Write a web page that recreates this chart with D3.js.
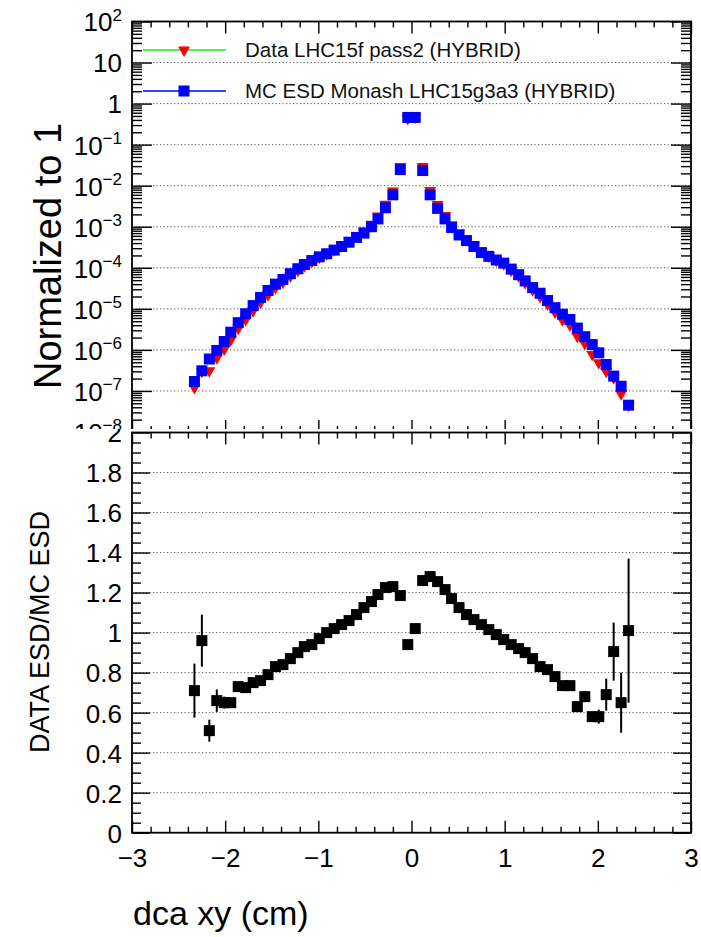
<!DOCTYPE html>
<html>
<head>
<meta charset="utf-8">
<script src="https://cdn.jsdelivr.net/npm/d3@7/dist/d3.min.js"></script>
<style>
  html, body { margin: 0; padding: 0; background: #fff; }
  svg { display: block; }
  text { font-family: "Liberation Sans", Arial, Helvetica, sans-serif; }
</style>
</head>
<body>
<div id="chart"></div>
<script>
// ---------------- DATA ----------------
const binCenters = [
  -2.33, -2.25, -2.17, -2.09, -2.01, -1.94, -1.86, -1.78, -1.70, -1.62,
  -1.54, -1.46, -1.38, -1.30, -1.22, -1.15, -1.07, -0.99, -0.91, -0.83,
  -0.75, -0.67, -0.59, -0.51, -0.43, -0.36, -0.28, -0.20, -0.12, -0.04,
   0.04,  0.12,  0.20,  0.28,  0.36,  0.43,  0.51,  0.59,  0.67,  0.75,
   0.83,  0.91,  0.99,  1.07,  1.15,  1.22,  1.30,  1.38,  1.46,  1.54,
   1.62,  1.70,  1.78,  1.86,  1.94,  2.01,  2.09,  2.17,  2.25,  2.33
];

// MC ESD Monash LHC15g3a3 (HYBRID), normalized to 1
const mcValues = [
  1.7e-7, 3.1e-7, 6.0e-7, 9.7e-7, 1.6e-6, 2.7e-6, 4.6e-6, 7.6e-6, 1.2e-5, 1.9e-5,
  2.8e-5, 4.0e-5, 5.2e-5, 7.2e-5, 9.5e-5, 1.2e-4, 1.5e-4, 1.85e-4, 2.2e-4, 2.7e-4,
  3.3e-4, 4.2e-4, 5.5e-4, 7.0e-4, 1.0e-3, 1.55e-3, 2.9e-3, 6.0e-3, 2.47e-2, 0.46,
  0.46, 2.34e-2, 6.0e-3, 2.8e-3, 1.55e-3, 9.6e-4, 6.3e-4, 4.6e-4, 3.3e-4, 2.35e-4,
  1.9e-4, 1.55e-4, 1.3e-4, 9.3e-5, 6.8e-5, 4.8e-5, 3.3e-5, 2.4e-5, 1.6e-5, 1.07e-5,
  7.4e-6, 5.5e-6, 3.4e-6, 2.1e-6, 1.35e-6, 8.5e-7, 4.4e-7, 2.3e-7, 1.3e-7, 4.5e-8
];

// Data LHC15f pass2 (HYBRID), normalized to 1
const dataValues = [
  1.2e-7, 3.0e-7, 3.1e-7, 6.4e-7, 1.04e-6, 1.75e-6, 3.36e-6, 5.5e-6, 9.0e-6, 1.44e-5,
  2.2e-5, 3.3e-5, 4.4e-5, 6.3e-5, 8.6e-5, 1.12e-4, 1.41e-4, 1.79e-4, 2.2e-4, 2.75e-4,
  3.43e-4, 4.45e-4, 6.0e-4, 7.9e-4, 1.155e-3, 1.84e-3, 3.55e-3, 7.4e-3, 2.93e-2, 0.432,
  0.469, 2.95e-2, 7.7e-3, 3.5e-3, 1.88e-3, 1.12e-3, 7.1e-4, 5.0e-4, 3.5e-4, 2.44e-4,
  1.93e-4, 1.53e-4, 1.25e-4, 8.7e-5, 6.3e-5, 4.3e-5, 2.9e-5, 2.0e-5, 1.3e-5, 8.3e-6,
  5.4e-6, 4.0e-6, 2.14e-6, 1.43e-6, 7.8e-7, 4.9e-7, 3.0e-7, 2.1e-7, 8.5e-8, 4.5e-8
];

// DATA ESD / MC ESD
const ratioValues = [
  0.71, 0.96, 0.51, 0.66, 0.65, 0.65, 0.73, 0.725, 0.75, 0.76,
  0.79, 0.83, 0.84, 0.87, 0.90, 0.93, 0.94, 0.97, 1.00, 1.02,
  1.04, 1.06, 1.09, 1.125, 1.155, 1.19, 1.225, 1.23, 1.185, 0.94,
  1.02, 1.26, 1.28, 1.255, 1.215, 1.17, 1.125, 1.09, 1.065, 1.04,
  1.015, 0.99, 0.965, 0.94, 0.92, 0.90, 0.87, 0.83, 0.815, 0.78,
  0.735, 0.735, 0.63, 0.68, 0.58, 0.58, 0.69, 0.905, 0.65, 1.01
];
const ratioErrors = [
  0.135, 0.13, 0.055, 0.056, 0.03, 0.02, 0.015, 0.012, 0.01, 0.01,
  0.008, 0.006, 0.006, 0.005, 0.005, 0.004, 0.004, 0.004, 0.004, 0.004,
  0.004, 0.004, 0.004, 0.003, 0.003, 0.003, 0.002, 0.002, 0.002, 0.001,
  0.001, 0.002, 0.002, 0.002, 0.003, 0.003, 0.003, 0.004, 0.004, 0.004,
  0.004, 0.004, 0.004, 0.005, 0.005, 0.006, 0.006, 0.008, 0.01, 0.01,
  0.015, 0.015, 0.02, 0.025, 0.025, 0.035, 0.08, 0.145, 0.15, 0.36
];

const xTickValues = [-3, -2, -1, 0, 1, 2, 3];
const topMajorTicks = [1e-8, 1e-7, 1e-6, 1e-5, 1e-4, 1e-3, 1e-2, 1e-1, 1, 10, 100];
const botMajorTicks = [0, 0.2, 0.4, 0.6, 0.8, 1, 1.2, 1.4, 1.6, 1.8, 2];
const legendLabels = ["Data LHC15f pass2 (HYBRID)", "MC ESD Monash LHC15g3a3 (HYBRID)"];
const titles = { yTop: "Normalized to 1", yBot: "DATA ESD/MC ESD", x: "dca xy (cm)" };

// ---------------- LAYOUT ----------------
const W = 701, H = 937;
const L = 132, R = 691;
const topY0 = 21.5, topY1 = 432;
const botY0 = 432.5, botY1 = 832.7;
const SPLIT = 429;

const svg = d3.select("#chart").append("svg")
  .attr("width", W).attr("height", H).attr("viewBox", `0 0 ${W} ${H}`);
svg.append("rect").attr("width", W).attr("height", H).attr("fill", "#fff");

const defs = svg.append("defs");
defs.append("clipPath").attr("id", "clipTop").append("rect")
  .attr("x", 0).attr("y", 0).attr("width", W).attr("height", SPLIT);
defs.append("clipPath").attr("id", "clipBot").append("rect")
  .attr("x", 0).attr("y", SPLIT).attr("width", W).attr("height", H - SPLIT);

const x = d3.scaleLinear().domain([-3, 3]).range([L, R]);
const yTop = d3.scaleLog().domain([1e-8, 1e2]).range([topY1, topY0]);
const yBot = d3.scaleLinear().domain([0, 2]).range([botY1, botY0]);

// minor tick values
const xMinor = d3.range(-30, 31, 2).map(v => v / 10).filter(v => Math.abs(v - Math.round(v)) > 1e-6);
const topMinor = [];
for (let k = -8; k < 2; k++) for (let m = 2; m <= 9; m++) topMinor.push(m * Math.pow(10, k));
const botMinor = d3.range(0, 41).map(v => v * 0.05).filter(v => Math.abs(v * 5 - Math.round(v * 5)) > 1e-6);

const FONT = '"Liberation Sans", Arial, Helvetica, sans-serif';

function styleAxis(g) {
  g.select(".domain").remove();
  g.selectAll(".tick line").attr("stroke", "#000").attr("stroke-width", 1.4);
  g.attr("font-family", FONT);
}

// ---------------- TOP PAD ----------------
const topPad = svg.append("g").attr("clip-path", "url(#clipTop)");

topPad.append("g").selectAll("line").data(topMajorTicks.filter(v => v > 1e-8 && v < 100)).join("line")
  .attr("x1", L).attr("x2", R).attr("y1", d => yTop(d)).attr("y2", d => yTop(d))
  .attr("stroke", "#555").attr("stroke-width", 1).attr("stroke-dasharray", "1.2,2.3");

const topLeft = topPad.append("g").attr("transform", `translate(${L},0)`)
  .call(d3.axisLeft(yTop).tickValues(topMajorTicks).tickSize(-20).tickPadding(10).tickFormat(() => ""))
  .call(styleAxis);
topLeft.selectAll(".tick text").each(function (d) {
  const t = d3.select(this);
  const k = Math.round(Math.log10(d));
  t.text(null).attr("font-size", 26).attr("fill", "#000").attr("dy", "0.36em");
  if (k === 0) t.text("1");
  else if (k === 1) t.text("10");
  else {
    t.append("tspan").text("10");
    t.append("tspan").attr("dy", "-0.62em").attr("font-size", 17)
      .text(k < 0 ? "\u2212" + Math.abs(k) : String(k));
  }
});
topPad.append("g").attr("transform", `translate(${L},0)`)
  .call(d3.axisLeft(yTop).tickValues(topMinor).tickSize(-10).tickFormat(""))
  .call(styleAxis);
topPad.append("g").attr("transform", `translate(${R},0)`)
  .call(d3.axisRight(yTop).tickValues(topMajorTicks).tickSize(-20).tickFormat(""))
  .call(styleAxis);
topPad.append("g").attr("transform", `translate(${R},0)`)
  .call(d3.axisRight(yTop).tickValues(topMinor).tickSize(-10).tickFormat(""))
  .call(styleAxis);
topPad.append("g").attr("transform", `translate(0,${topY1})`)
  .call(d3.axisBottom(x).tickValues(xTickValues).tickSize(-12).tickFormat(""))
  .call(styleAxis);
topPad.append("g").attr("transform", `translate(0,${topY1})`)
  .call(d3.axisBottom(x).tickValues(xMinor).tickSize(-6).tickFormat(""))
  .call(styleAxis);
topPad.append("g").attr("transform", `translate(0,${topY0})`)
  .call(d3.axisTop(x).tickValues(xTickValues).tickSize(-12).tickFormat(""))
  .call(styleAxis);
topPad.append("g").attr("transform", `translate(0,${topY0})`)
  .call(d3.axisTop(x).tickValues(xMinor).tickSize(-6).tickFormat(""))
  .call(styleAxis);

const triSym = d3.symbol().type(d3.symbolTriangle).size(62);
const sqSym = d3.symbol().type(d3.symbolSquare).size(121);

const topData = binCenters.map((c, i) => ({ x: c, data: dataValues[i], mc: mcValues[i] }));

topPad.append("g").selectAll("path").data(topData).join("path")
  .attr("d", triSym)
  .attr("transform", d => `translate(${x(d.x)},${yTop(d.data)}) rotate(180)`)
  .attr("fill", "#ff0000");
topPad.append("g").selectAll("path").data(topData).join("path")
  .attr("d", sqSym)
  .attr("transform", d => `translate(${x(d.x)},${yTop(d.mc)})`)
  .attr("fill", "#0000ff");

const legend = topPad.append("g");
const legY = [50, 91];
legend.append("line").attr("x1", 143).attr("x2", 226).attr("y1", legY[0]).attr("y2", legY[0])
  .attr("stroke", "#55ee55").attr("stroke-width", 2);
legend.append("path").attr("d", triSym)
  .attr("transform", `translate(184,${legY[0]}) rotate(180)`).attr("fill", "#ff0000");
legend.append("line").attr("x1", 143).attr("x2", 226).attr("y1", legY[1]).attr("y2", legY[1])
  .attr("stroke", "#3344ff").attr("stroke-width", 2);
legend.append("path").attr("d", sqSym)
  .attr("transform", `translate(184,${legY[1]})`).attr("fill", "#0000ff");
legend.selectAll("text").data(legendLabels).join("text")
  .attr("x", 245).attr("y", (d, i) => legY[i]).attr("dy", "0.36em")
  .attr("font-size", 20.5).attr("fill", "#111").text(d => d);

topPad.append("rect").attr("x", L).attr("y", topY0).attr("width", R - L).attr("height", topY1 - topY0)
  .attr("fill", "none").attr("stroke", "#000").attr("stroke-width", 1.8);

// ---------------- BOTTOM PAD ----------------
const botPad = svg.append("g").attr("clip-path", "url(#clipBot)");

botPad.append("g").selectAll("line").data(botMajorTicks.filter(v => v > 0 && v < 2)).join("line")
  .attr("x1", L).attr("x2", R).attr("y1", d => yBot(d)).attr("y2", d => yBot(d))
  .attr("stroke", "#555").attr("stroke-width", 1).attr("stroke-dasharray", "1.2,2.3");

const botLeft = botPad.append("g").attr("transform", `translate(${L},0)`)
  .call(d3.axisLeft(yBot).tickValues(botMajorTicks).tickSize(-18).tickPadding(10)
    .tickFormat(d => String(+d.toFixed(1))))
  .call(styleAxis);
botLeft.selectAll(".tick text").attr("font-size", 26).attr("fill", "#000").attr("dy", "0.36em");
botPad.append("g").attr("transform", `translate(${L},0)`)
  .call(d3.axisLeft(yBot).tickValues(botMinor).tickSize(-9).tickFormat(""))
  .call(styleAxis);
botPad.append("g").attr("transform", `translate(${R},0)`)
  .call(d3.axisRight(yBot).tickValues(botMajorTicks).tickSize(-18).tickFormat(""))
  .call(styleAxis);
botPad.append("g").attr("transform", `translate(${R},0)`)
  .call(d3.axisRight(yBot).tickValues(botMinor).tickSize(-9).tickFormat(""))
  .call(styleAxis);
const botX = botPad.append("g").attr("transform", `translate(0,${botY1})`)
  .call(d3.axisBottom(x).tickValues(xTickValues).tickSize(-12).tickPadding(16).tickFormat(d3.format("d")))
  .call(styleAxis);
botX.selectAll(".tick text").attr("font-size", 26).attr("fill", "#000").attr("y", 16).attr("dy", "0.71em");
botPad.append("g").attr("transform", `translate(0,${botY1})`)
  .call(d3.axisBottom(x).tickValues(xMinor).tickSize(-6).tickFormat(""))
  .call(styleAxis);
botPad.append("g").attr("transform", `translate(0,${botY0})`)
  .call(d3.axisTop(x).tickValues(xTickValues).tickSize(-12).tickFormat(""))
  .call(styleAxis);
botPad.append("g").attr("transform", `translate(0,${botY0})`)
  .call(d3.axisTop(x).tickValues(xMinor).tickSize(-6).tickFormat(""))
  .call(styleAxis);

const ratioData = binCenters.map((c, i) => ({ x: c, v: ratioValues[i], e: ratioErrors[i] }));
botPad.append("g").selectAll("line").data(ratioData).join("line")
  .attr("x1", d => x(d.x)).attr("x2", d => x(d.x))
  .attr("y1", d => yBot(d.v - d.e)).attr("y2", d => yBot(d.v + d.e))
  .attr("stroke", "#000").attr("stroke-width", 2);
botPad.append("g").selectAll("path").data(ratioData).join("path")
  .attr("d", sqSym)
  .attr("transform", d => `translate(${x(d.x)},${yBot(d.v)})`)
  .attr("fill", "#000");

botPad.append("rect").attr("x", L).attr("y", botY0).attr("width", R - L).attr("height", botY1 - botY0)
  .attr("fill", "none").attr("stroke", "#000").attr("stroke-width", 1.8);

// ---------------- TITLES ----------------
svg.append("text").attr("transform", "translate(61,256) rotate(-90)")
  .attr("text-anchor", "middle").attr("font-size", 38).attr("fill", "#000").text(titles.yTop);
svg.append("text").attr("transform", "translate(49,632) rotate(-90)")
  .attr("text-anchor", "middle").attr("font-size", 27).attr("fill", "#000").text(titles.yBot);
svg.append("text").attr("x", 133).attr("y", 925)
  .attr("font-size", 34).attr("fill", "#000").text(titles.x);
</script>
</body>
</html>
